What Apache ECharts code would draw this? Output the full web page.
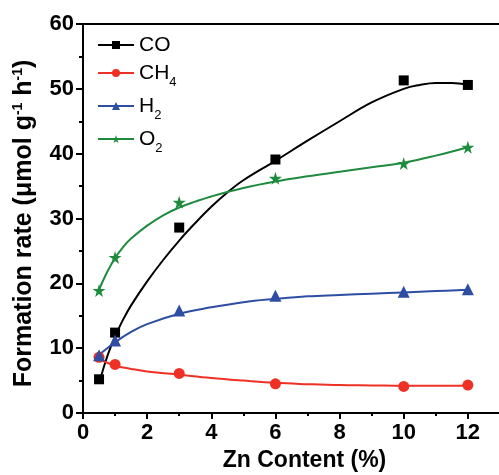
<!DOCTYPE html>
<html>
<head>
<meta charset="utf-8">
<script src="https://cdn.jsdelivr.net/npm/echarts@6/dist/echarts.min.js"></script>
<style>html,body{margin:0;padding:0;background:#fff}#c{width:499px;height:475px}</style>
</head>
<body>
<div id="c"></div>
<script>
// measured points (x = Zn content %, y = formation rate)
const znContent = [0.5, 1, 3, 6, 10, 12];
const coRate  = [5.2, 12.4, 28.6, 39.1, 51.3, 50.6];
const ch4Rate = [8.6, 7.5, 6.1, 4.5, 4.1, 4.3];
const h2Rate  = [8.9, 11.2, 15.8, 18.1, 18.7, 19.1];
const o2Rate  = [18.9, 24.0, 32.5, 36.2, 38.5, 41.0];

// fitted curves: [x, y]
const coFit  = [[0.55,5.4],[0.7,7.9],[0.85,10.0],[1,11.8],[1.25,14.4],[1.5,16.6],[2,20.3],[2.5,23.6],[3,26.6],[3.5,29.3],[4,31.8],[4.5,34.0],[5,35.9],[6,38.9],[7,42.0],[8,45.0],[9,47.9],[10,50.0],[10.5,50.6],[11,50.9],[11.5,50.9],[12,50.6]];
const ch4Fit = [[0.35,8.6],[0.5,8.3],[1,7.3],[1.5,6.8],[2,6.4],[3,5.9],[4,5.4],[5,5.0],[6,4.65],[7,4.45],[8,4.3],[9,4.25],[10,4.2],[11,4.2],[12,4.25]];
const h2Fit  = [[0.35,8.5],[0.5,9.0],[1,10.9],[1.5,12.5],[2,13.7],[3,15.3],[4,16.3],[5,17.1],[6,17.6],[7,18.0],[8,18.2],[9,18.4],[10,18.6],[11,18.8],[12,19.0]];
const o2Fit  = [[0.5,19.0],[0.75,21.7],[1,23.9],[1.25,25.6],[1.5,26.9],[2,28.9],[2.5,30.5],[3,31.7],[3.5,32.6],[4,33.4],[5,34.7],[6,35.7],[7,36.5],[8,37.2],[9,37.9],[10,38.6],[11,39.7],[12,41.0]];

const xTicks = [0, 2, 4, 6, 8, 10, 12];
const yTicks = [0, 10, 20, 30, 40, 50, 60];

const FONT = "'Liberation Sans', Arial, sans-serif";
const names = ['CO', 'CH4', 'H2', 'O2'];
const colors = ['#000000', '#ee3124', '#2e4ea3', '#1f8b3f'];
const STAR = 'path://M50,0 L61,35 L98,35 L68,57 L79,91 L50,70 L21,91 L32,57 L2,35 L39,35 Z';
const symbols = ['rect', 'circle', 'triangle', STAR];
const symbolSizes = [10, 11, 12, 13];
const fits = [coFit, ch4Fit, h2Fit, o2Fit];
const rates = [coRate, ch4Rate, h2Rate, o2Rate];

const legendRich = {
  'CO': '{n|CO}',
  'CH4': '{n|CH}{s|4}',
  'H2': '{n|H}{s|2}',
  'O2': '{n|O}{s|2}'
};

const series = [];
names.forEach((nm, i) => {
  series.push({
    name: nm, type: 'line', smooth: 0.4, showSymbol: false,
    symbol: symbols[i], data: fits[i],
    lineStyle: { color: colors[i], width: 2 },
    itemStyle: { color: colors[i] },
    z: 2, silent: true
  });
});
names.forEach((nm, i) => {
  series.push({
    name: nm + ' data', type: 'scatter',
    symbol: symbols[i], symbolSize: symbolSizes[i],
    data: znContent.map((x, k) => [x, rates[i][k]]),
    itemStyle: { color: colors[i], opacity: 1 },
    z: 3
  });
});

const chart = echarts.init(document.getElementById('c'), null, { renderer: 'canvas' });
chart.setOption({
  animation: false,
  backgroundColor: '#fff',
  grid: { left: 83, right: -33, top: 24, bottom: 62, outerBoundsMode: 'none', containLabel: false, show: true, borderColor: '#000', borderWidth: 2 },
  legend: {
    data: names, orient: 'vertical', left: 97, top: 35, padding: 0,
    itemWidth: 36, itemHeight: 10, itemGap: 7,
    lineStyle: { width: 2 },
    formatter: n => legendRich[n],
    textStyle: {
      fontFamily: FONT, color: '#000',
      rich: {
        n: { fontSize: 21, lineHeight: 20, verticalAlign: 'top', fontFamily: FONT, color: '#000' },
        s: { fontSize: 13, lineHeight: 13, padding: [13, 0, 0, 0], verticalAlign: 'top', fontFamily: FONT, color: '#000' }
      }
    }
  },
  xAxis: {
    type: 'value', min: 0, max: 14, interval: 2,
    name: 'Zn Content (%)', nameLocation: 'middle', nameGap: 36,
    nameTextStyle: { fontSize: 23, fontWeight: 'bold', color: '#000', fontFamily: FONT, padding: [0, 6, 0, 0] },
    axisLine: { onZero: false, lineStyle: { color: '#000', width: 2 } },
    axisTick: { show: true, length: 6, lineStyle: { width: 2, color: '#000' } },
    minorTick: { show: true, splitNumber: 2, length: 3, lineStyle: { width: 2, color: '#000' } },
    splitLine: { show: false },
    axisLabel: {
      margin: 9, fontSize: 22, fontWeight: 'bold', color: '#000', fontFamily: FONT,
      showMaxLabel: false,
      formatter: v => xTicks.includes(v) ? String(v) : ''
    }
  },
  yAxis: {
    type: 'value', min: 0, max: 60, interval: 10,
    name: '{b|Formation rate (μmol g}{sup|-1}{b| h}{sup|-1}{b|)}{p|}',
    nameLocation: 'middle', nameGap: 46, nameRotate: 90,
    nameTextStyle: {
      color: '#000',
      rich: {
        b: { fontSize: 25, fontWeight: 'bold', lineHeight: 26, color: '#000', fontFamily: FONT },
        sup: { fontSize: 14, fontWeight: 'bold', lineHeight: 12, verticalAlign: 'top', color: '#000', fontFamily: FONT },
        p: { width: 10 }
      }
    },
    axisLine: { onZero: false, lineStyle: { color: '#000', width: 2 } },
    axisTick: { show: true, length: 7, lineStyle: { width: 2, color: '#000' } },
    minorTick: { show: true, splitNumber: 2, length: 4, lineStyle: { width: 2, color: '#000' } },
    splitLine: { show: false },
    axisLabel: {
      margin: 9, fontSize: 22, fontWeight: 'bold', color: '#000', fontFamily: FONT,
      formatter: v => yTicks.includes(v) ? String(v) : ''
    }
  },
  series: series
});
</script>
</body>
</html>
